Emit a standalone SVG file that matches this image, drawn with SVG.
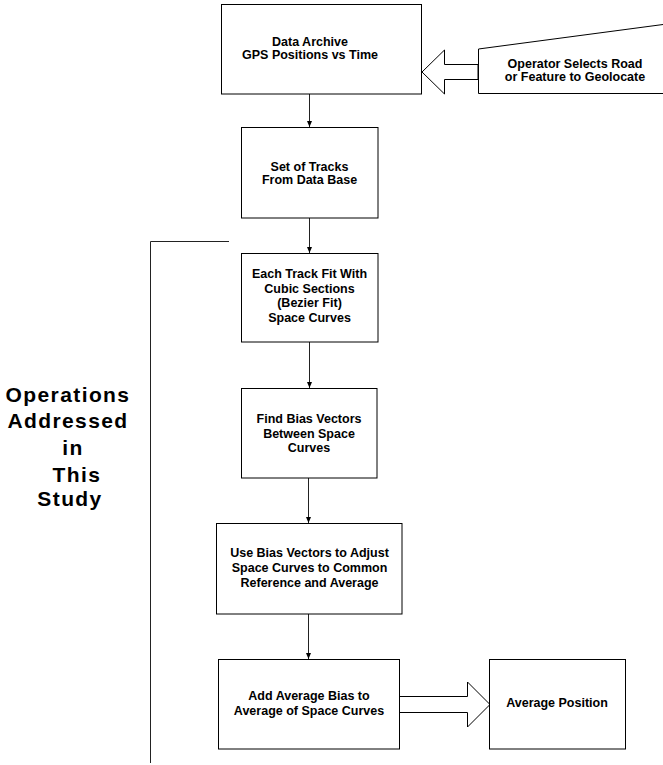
<svg xmlns="http://www.w3.org/2000/svg" width="663" height="765" viewBox="0 0 663 765">
<defs>
<style>
.box{fill:#fff;stroke:#000;stroke-width:1}
.t{font-family:"Liberation Sans",Arial,sans-serif;font-weight:bold;font-size:12.5px;text-anchor:middle;fill:#000}
.big{font-family:"Liberation Sans",Arial,sans-serif;font-weight:bold;font-size:21px;letter-spacing:1.4px;text-anchor:middle;fill:#000}
.c{fill:none;stroke:#222;stroke-width:1}
.blk{fill:#fff;stroke:#000;stroke-width:1}
</style>
<marker id="ah" viewBox="0 0 6 5" refX="6" refY="2.5" markerWidth="6" markerHeight="5" markerUnits="userSpaceOnUse" orient="auto">
<path d="M0,0 L6,2.5 L0,5 Z" fill="#000"/>
</marker>
</defs>
<rect width="663" height="765" fill="#fff"/>
<g id="connectors">
<line class="c" x1="309.5" y1="94" x2="309.5" y2="127" marker-end="url(#ah)"/>
<line class="c" x1="309.5" y1="218" x2="309.5" y2="253" marker-end="url(#ah)"/>
<line class="c" x1="309.5" y1="342" x2="309.5" y2="388" marker-end="url(#ah)"/>
<line class="c" x1="308.5" y1="478" x2="308.5" y2="523" marker-end="url(#ah)"/>
<line class="c" x1="308.5" y1="614" x2="308.5" y2="659" marker-end="url(#ah)"/>
<polygon class="blk" points="478,64.5 444.5,64.5 444.5,50 422,72 444.5,94 444.5,79.5 478,79.5"/>
<polygon class="blk" points="399,696.5 467.5,696.5 467.5,682 490,704.5 467.5,727 467.5,712.5 399,712.5"/>
<polyline class="c" points="229,241.5 150.5,241.5 150.5,763"/>
</g>
<g id="n-archive">
<rect class="box" x="221.5" y="4.5" width="200" height="89.5"/>
<text class="t" x="310" y="46">Data Archive</text>
<text class="t" x="310" y="58.5">GPS Positions vs Time</text>
</g>
<g id="n-operator">
<path class="box" d="M663,24.5 L478.5,49 L478.5,93.5 L663,93.5"/>
<text class="t" x="575" y="68">Operator Selects Road</text>
<text class="t" x="575" y="81">or Feature to Geolocate</text>
</g>
<g id="n-tracks">
<rect class="box" x="241.5" y="127.5" width="136.5" height="90.5"/>
<text class="t" x="309.5" y="170.5">Set of Tracks</text>
<text class="t" x="309.5" y="183.5">From Data Base</text>
</g>
<g id="n-fit">
<rect class="box" x="241.5" y="253.5" width="136.5" height="88.5"/>
<text class="t" x="309.5" y="278">Each Track Fit With</text>
<text class="t" x="309.5" y="292.5">Cubic Sections</text>
<text class="t" x="309.5" y="307">(Bezier Fit)</text>
<text class="t" x="309.5" y="321.5">Space Curves</text>
</g>
<g id="n-bias">
<rect class="box" x="241.5" y="388.5" width="135.5" height="89.5"/>
<text class="t" x="309" y="423">Find Bias Vectors</text>
<text class="t" x="309" y="437.5">Between Space</text>
<text class="t" x="309" y="452">Curves</text>
</g>
<g id="n-adjust">
<rect class="box" x="216.5" y="523.5" width="185.5" height="90.5"/>
<text class="t" x="309.5" y="557">Use Bias Vectors to Adjust</text>
<text class="t" x="309.5" y="572">Space Curves to Common</text>
<text class="t" x="309.5" y="587">Reference and Average</text>
</g>
<g id="n-add">
<rect class="box" x="218.5" y="659.5" width="181" height="89.5"/>
<text class="t" x="309" y="700">Add Average Bias to</text>
<text class="t" x="309" y="715">Average of Space Curves</text>
</g>
<g id="n-result">
<rect class="box" x="489.5" y="659.5" width="136" height="89.5"/>
<text class="t" x="557" y="707">Average Position</text>
</g>
<g id="n-label">
<text class="big" x="68" y="402">Operations</text>
<text class="big" x="68" y="428">Addressed</text>
<text class="big" x="73" y="455">in</text>
<text class="big" x="77" y="482">This</text>
<text class="big" x="70" y="506">Study</text>
</g>
</svg>
